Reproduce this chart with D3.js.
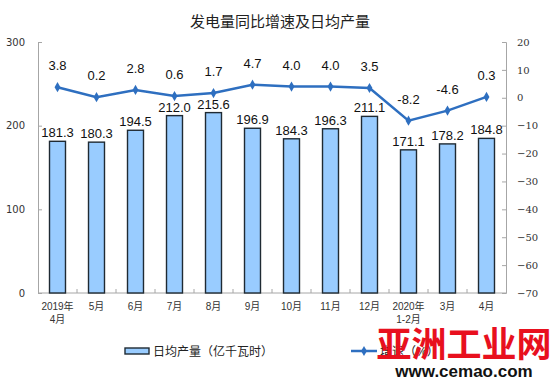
<!DOCTYPE html>
<html>
<head>
<meta charset="utf-8">
<script src="https://cdn.jsdelivr.net/npm/d3@7"></script>
<style>
  body { margin: 0; background: #fff; }
  svg { display: block; font-family: Arial, "Liberation Sans", "Noto Sans CJK SC", sans-serif; }
</style>
</head>
<body>
<div id="chart"></div>
<script>
// categories (x axis labels, second line after \n)
var months = ["2019年\n4月", "5月", "6月", "7月", "8月", "9月", "10月", "11月", "12月", "2020年\n1-2月", "3月", "4月"];
// daily average output, 100 million kWh
var dailyOutput = [181.3, 180.3, 194.5, 212.0, 215.6, 196.9, 184.3, 196.3, 211.1, 171.1, 178.2, 184.8];
// year on year growth, %
var growth = [3.8, 0.2, 2.8, 0.6, 1.7, 4.7, 4.0, 4.0, 3.5, -8.2, -4.6, 0.3];
var leftTicks = [0, 100, 200, 300];
var rightTicks = [20, 10, 0, -10, -20, -30, -40, -50, -60, -70];

var width = 559, height = 385;
var margin = {top: 42, right: 53, bottom: 92, left: 38};

var svg = d3.select("#chart").append("svg")
    .attr("width", width)
    .attr("height", height);

var x = d3.scaleBand()
    .domain(d3.range(months.length))
    .range([margin.left, width - margin.right])
    .paddingInner(0).paddingOuter(0);

var yLeft = d3.scaleLinear().domain([0, 300]).range([height - margin.bottom, margin.top]);
var yRight = d3.scaleLinear().domain([-70, 20]).range([height - margin.bottom, margin.top]);

var axisColor = "#a6a6a6";
var barW = x.bandwidth() * 0.41;

// title
svg.append("text")
    .attr("x", 280).attr("y", 27)
    .attr("text-anchor", "middle")
    .style("font-size", "15px")
    .style("fill", "#222")
    .text("发电量同比增速及日均产量");

// left axis
var gl = svg.append("g").attr("transform", "translate(" + margin.left + ",0)")
    .call(d3.axisLeft(yLeft).tickValues(leftTicks).tickSize(-4).tickPadding(13));
gl.select(".domain").attr("stroke", axisColor);
gl.selectAll(".tick line").attr("stroke", axisColor);
gl.selectAll(".tick text").style("font-size", "10px").style("fill", "#333")
    .style("font-family", "'DejaVu Sans', sans-serif");

// right axis
var gr = svg.append("g").attr("transform", "translate(" + (width - margin.right) + ",0)")
    .call(d3.axisRight(yRight).tickValues(rightTicks).tickSize(-4).tickPadding(11));
gr.select(".domain").attr("stroke", axisColor);
gr.selectAll(".tick line").attr("stroke", axisColor);
gr.selectAll(".tick text").style("font-size", "10px").style("fill", "#333")
    .style("font-family", "'DejaVu Serif', serif");

// x axis
var bottomY = height - margin.bottom;
svg.append("line")
    .attr("x1", margin.left).attr("x2", width - margin.right)
    .attr("y1", bottomY).attr("y2", bottomY)
    .attr("stroke", axisColor);
svg.selectAll(".xtick")
    .data(d3.range(1, months.length))
    .enter().append("line")
    .attr("class", "xtick")
    .attr("x1", d => x(d)).attr("x2", d => x(d))
    .attr("y1", bottomY).attr("y2", bottomY - 4)
    .attr("stroke", axisColor);

var xl = svg.selectAll(".xlabel")
    .data(months)
    .enter().append("text")
    .attr("class", "xlabel")
    .attr("text-anchor", "middle")
    .style("font-size", "10px")
    .style("fill", "#333");
xl.each(function (d, i) {
  var parts = d.split("\n");
  var t = d3.select(this);
  parts.forEach(function (p, j) {
    t.append("tspan")
        .attr("x", x(i) + x.bandwidth() / 2)
        .attr("y", 310 + j * 13)
        .text(p);
  });
});

// bars
svg.selectAll(".bar")
    .data(dailyOutput)
    .enter().append("rect")
    .attr("class", "bar")
    .attr("x", (d, i) => x(i) + x.bandwidth() / 2 - barW / 2)
    .attr("y", d => yLeft(d))
    .attr("width", barW)
    .attr("height", d => yLeft(0) - yLeft(d))
    .attr("fill", "#99ccff")
    .attr("stroke", "#1f2a33")
    .attr("stroke-width", 1.4);

svg.selectAll(".barlabel")
    .data(dailyOutput)
    .enter().append("text")
    .attr("class", "barlabel")
    .attr("x", (d, i) => x(i) + x.bandwidth() / 2)
    .attr("y", d => yLeft(d) - 4)
    .attr("text-anchor", "middle")
    .style("font-size", "13px")
    .style("fill", "#111")
    .text(d => d.toFixed(1));

// growth line
var lineColor = "#2e6fc0";
var line = d3.line()
    .x((d, i) => x(i) + x.bandwidth() / 2)
    .y(d => yRight(d));

svg.append("path")
    .datum(growth)
    .attr("d", line)
    .attr("fill", "none")
    .attr("stroke", lineColor)
    .attr("stroke-width", 2.5);

var diamond = d3.symbol().type(d3.symbolDiamond).size(30);
svg.selectAll(".pt")
    .data(growth)
    .enter().append("path")
    .attr("class", "pt")
    .attr("d", diamond)
    .attr("transform", (d, i) => "translate(" + (x(i) + x.bandwidth() / 2) + "," + yRight(d) + ")")
    .attr("fill", lineColor);

svg.selectAll(".ptlabel")
    .data(growth)
    .enter().append("text")
    .attr("class", "ptlabel")
    .attr("x", (d, i) => x(i) + x.bandwidth() / 2)
    .attr("y", d => yRight(d) - 17)
    .attr("text-anchor", "middle")
    .style("font-size", "13px")
    .style("fill", "#111")
    .text(d => d.toFixed(1));

// legend
var lg = svg.append("g");
lg.append("rect")
    .attr("x", 125).attr("y", 348)
    .attr("width", 24).attr("height", 6)
    .attr("fill", "#99ccff").attr("stroke", "#1f2a33").attr("stroke-width", 1.4);
lg.append("text")
    .attr("x", 153).attr("y", 356)
    .style("font-size", "12px").style("fill", "#222")
    .text("日均产量（亿千瓦时）");
lg.append("line")
    .attr("x1", 351).attr("x2", 377).attr("y1", 351).attr("y2", 351)
    .attr("stroke", lineColor).attr("stroke-width", 2.5);
lg.append("path")
    .attr("d", diamond)
    .attr("transform", "translate(364,351)")
    .attr("fill", lineColor);
lg.append("text")
    .attr("x", 380).attr("y", 356)
    .style("font-size", "12px").style("fill", "#222")
    .text("增速（%）");

// site watermark over the legend, as in the source picture
svg.append("text")
    .attr("x", 464).attr("y", 357)
    .attr("text-anchor", "middle")
    .style("font-size", "35px").style("font-weight", "bold")
    .style("fill", "#e8101e")
    .style("font-family", "'Noto Sans CJK SC', sans-serif")
    .text("亚洲工业网");
svg.append("text")
    .attr("x", 464).attr("y", 377)
    .attr("text-anchor", "middle")
    .style("font-size", "17px").style("font-weight", "bold")
    .style("fill", "#111")
    .style("font-family", "Arial, 'Liberation Sans', sans-serif")
    .text("www.cemao.com");
</script>
</body>
</html>
